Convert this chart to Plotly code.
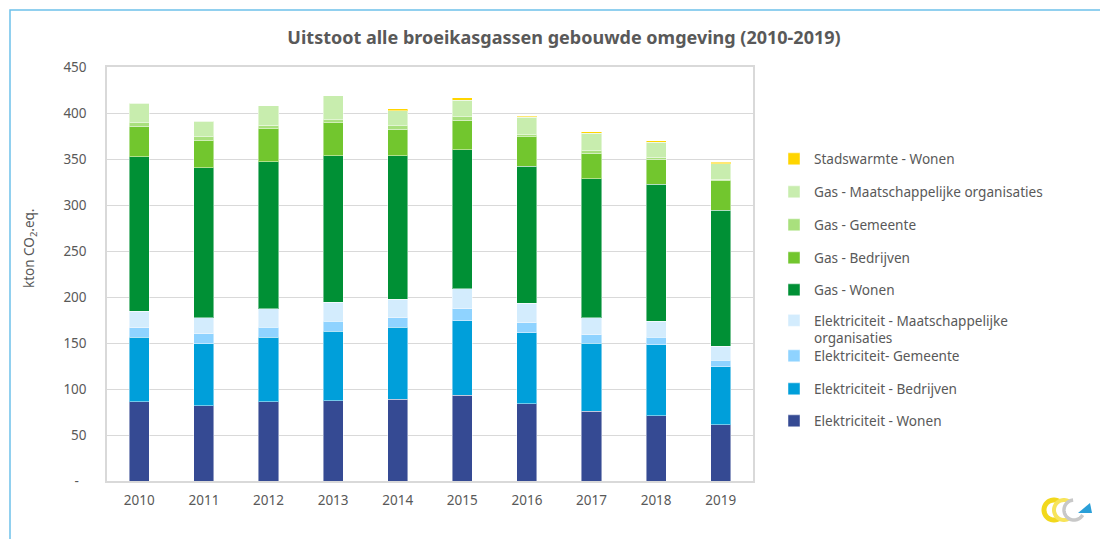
import numpy as np
import plotly.graph_objects as go

# ---------------- data ----------------
years = ["2010", "2011", "2012", "2013", "2014", "2015", "2016", "2017", "2018", "2019"]

elek_wonen = [86, 82, 86, 87, 89, 93, 84, 76, 71, 61]
elek_bedrijven = [70, 67, 70, 76, 78, 81, 77, 74, 77, 63]
elek_gemeente = [10.5, 11, 11, 10.5, 10.5, 13, 11, 9, 8.3, 7.3]
elek_mo = [18, 17.5, 20, 21, 20, 22, 21, 18.5, 17.5, 15]
gas_wonen = [168, 163, 160, 159, 156, 151, 149, 151, 149, 148]
gas_bedrijven = [33, 29.5, 36, 36, 29, 32, 32, 27.5, 27, 32]
gas_gemeente = [4, 4, 3.7, 3, 3.7, 4, 2.2, 3, 2, 1.8]
gas_mo = [21, 17, 21, 26, 16, 18, 19, 19, 16.5, 17]
stadswarmte = [0, 0, 0, 0, 2.6, 2.6, 1.5, 1.8, 1.5, 1.4]

series_names = [
    "Elektriciteit - Wonen",
    "Elektriciteit - Bedrijven",
    "Elektriciteit- Gemeente",
    "Elektriciteit - Maatschappelijke<br>organisaties",
    "Gas - Wonen",
    "Gas - Bedrijven",
    "Gas - Gemeente",
    "Gas - Maatschappelijke organisaties",
    "Stadswarmte - Wonen",
]
series_values = [elek_wonen, elek_bedrijven, elek_gemeente, elek_mo,
                 gas_wonen, gas_bedrijven, gas_gemeente, gas_mo, stadswarmte]

y_tickvals = [0, 50, 100, 150, 200, 250, 300, 350, 400, 450]
y_ticktext = ["-\u2007", "50", "100", "150", "200", "250", "300", "350", "400", "450"]

# ---------------- style ----------------
colors = ["#354A93", "#009FDA", "#8FD3FF", "#D3ECFD",
          "#009035", "#72C62E", "#A9E07D", "#C8EDAE", "#FFD500"]
FONT = "Noto Sans"
TXT = "#595959"

W, H = 1108, 539
OFF = 8  # page body margin offset

# plot area in screen pixels
SL, SR, ST, SB = 107, 753, 67, 481
L, R, T, B = SL - OFF, SR - OFF, ST - OFF, SB - OFF


def px(x):
    """screen x pixel -> paper x"""
    return (x - SL) / (SR - SL)


def py(y):
    """screen y pixel -> paper y"""
    return (SB - y) / (SB - ST)


# legend centre positions (screen pixels) for each series, bottom -> top
legend_py = [421, 389, 356, 329.5, 290, 258, 225, 192, 159]

fig = go.Figure()
legend_layout = {}
for i, (name, vals, col) in enumerate(zip(series_names, series_values, colors)):
    lname = "legend" if i == 0 else f"legend{i + 1}"
    fig.add_trace(go.Bar(
        x=years, y=vals, name=name,
        marker=dict(color=col, line=dict(color="rgba(255,255,255,0.45)", width=1)),
        legend=lname,
        hovertemplate="%{x}: %{y}<extra>" + name.replace("<br>", " ") + "</extra>",
    ))
    legend_layout[lname] = dict(
        x=px(774), y=py(legend_py[i]), xanchor="left", yanchor="middle",
        font=dict(family=FONT, size=13.6, color=TXT),
        bgcolor="rgba(0,0,0,0)", borderwidth=0,
        valign="top",
    )

# ---------------- shapes: frame and logo ----------------
shapes = []
shapes.append(dict(type="path", xref="paper", yref="paper",
                   path=f"M{px(10)},{py(560)} L{px(10)},{py(10)} L{px(1125)},{py(10)}",
                   line=dict(color="#6EC1EA", width=1.5)))


def arc_path(cx, cy, r, a0, a1, n=40):
    ang = np.radians(np.linspace(a0, a1, n))
    pts = [(px(cx + r * np.cos(a)), py(cy - r * np.sin(a))) for a in ang]
    return "M" + " L".join(f"{x:.5f},{y:.5f}" for x, y in pts)


# logo (approximation)
shapes.append(dict(type="path", xref="paper", yref="paper",
                   path=arc_path(1054, 510, 10, 55, 305),
                   line=dict(color="#F2D81C", width=5)))
shapes.append(dict(type="path", xref="paper", yref="paper",
                   path=arc_path(1064, 510, 10, 55, 305),
                   line=dict(color="#F7E45A", width=4)))
shapes.append(dict(type="path", xref="paper", yref="paper",
                   path=arc_path(1074, 510, 10, 95, 330),
                   line=dict(color="#C8C8C8", width=3.5)))
shapes.append(dict(type="path", xref="paper", yref="paper",
                   path=f"M{px(1078)},{py(513)} L{px(1092)},{py(513)} L{px(1090)},{py(503)} Z",
                   fillcolor="#2A9FD8", line=dict(width=0)))

annotations = [dict(
    text="kton CO<sub>2</sub>.eq.", textangle=-90,
    xref="paper", yref="paper", x=px(30), y=py(249),
    xanchor="center", yanchor="middle", showarrow=False,
    font=dict(family=FONT, size=13.5, color=TXT),
)]

fig.update_layout(
    width=W, height=H,
    barmode="stack", bargap=0.69,
    paper_bgcolor="white", plot_bgcolor="white",
    margin=dict(l=L, r=W - R, t=T, b=H - B, autoexpand=False),
    title=dict(text="<b>Uitstoot alle broeikasgassen gebouwde omgeving (2010-2019)</b>",
               x=(564 - OFF) / W, xanchor="center", y=1 - (38 - OFF) / H, yanchor="middle",
               font=dict(family=FONT, size=18, color=TXT)),
    font=dict(family=FONT, size=13, color=TXT),
    xaxis=dict(showline=True, linecolor="#D9D9D9", linewidth=1.5, mirror=True,
               ticks="", tickfont=dict(family=FONT, size=13.5, color=TXT),
               ticklabelstandoff=6, fixedrange=True),
    yaxis=dict(range=[0, 450], tickvals=y_tickvals, ticktext=y_ticktext,
               showgrid=True, gridcolor="#D9D9D9", gridwidth=1,
               showline=True, linecolor="#D9D9D9", linewidth=1.5, mirror=True,
               zeroline=False, ticks="",
               tickfont=dict(family=FONT, size=13.5, color=TXT),
               ticklabelstandoff=16, fixedrange=True),
    shapes=shapes,
    annotations=annotations,
    showlegend=True,
    **legend_layout,
)

fig.write_html("out.html")
